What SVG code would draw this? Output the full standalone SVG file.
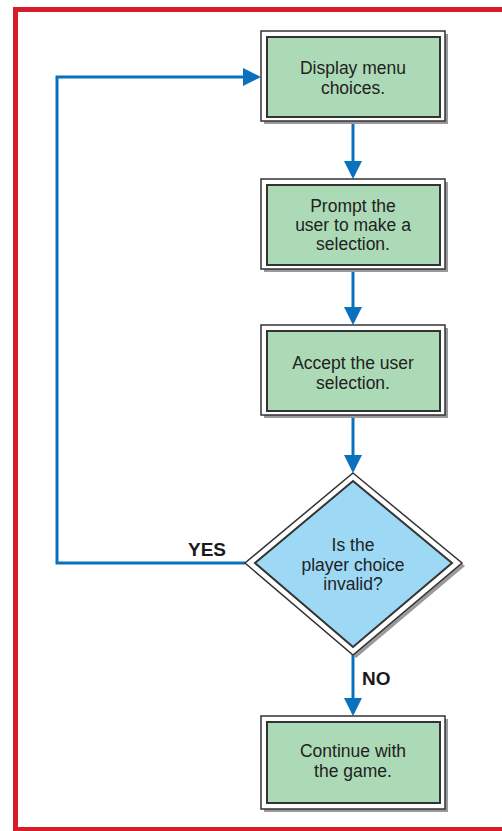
<svg xmlns="http://www.w3.org/2000/svg" width="502" height="831" viewBox="0 0 502 831">
<style>
.frame{fill:#fff;stroke:#d71e28;stroke-width:5}
.shadow{fill:#9a9a9a}
.outer{fill:#fff;stroke:#333;stroke-width:1.5}
.inner{fill:#acdab6;stroke:#333;stroke-width:2}
.dinner{fill:#9dd8f5;stroke:#333;stroke-width:2}
.t{font-family:"Liberation Sans",Arial,sans-serif;font-size:17.5px;fill:#222;text-anchor:middle}
.lbl{font-family:"Liberation Sans",Arial,sans-serif;font-size:19px;font-weight:bold;fill:#1a1a1a}
.conn{fill:none;stroke:#0a72bd;stroke-width:3}
</style>
<defs>
<marker id="ah" markerWidth="6" markerHeight="6" refX="5" refY="3" orient="auto" markerUnits="strokeWidth">
<path d="M0,0 L6,3 L0,6 Z" fill="#0a72bd"/>
</marker>
</defs>
<rect class="frame" x="15.5" y="9.5" width="495" height="820"/>
<g id="connectors">
<line class="conn" x1="353" y1="121" x2="353" y2="176" marker-end="url(#ah)"/>
<line class="conn" x1="353" y1="271" x2="353" y2="322" marker-end="url(#ah)"/>
<line class="conn" x1="353" y1="417" x2="353" y2="470" marker-end="url(#ah)"/>
<line class="conn" x1="353" y1="655" x2="353" y2="713" marker-end="url(#ah)"/>
<polyline class="conn" points="245,563 57,563 57,77 258,77" marker-end="url(#ah)"/>
<text class="lbl" x="188" y="556">YES</text>
<text class="lbl" x="362" y="685">NO</text>
</g>
<g id="n1">
<rect class="shadow" x="264" y="34" width="184" height="90"/>
<rect class="outer" x="261" y="31" width="184" height="90"/>
<rect class="inner" x="267" y="37" width="173" height="80"/>
<text class="t" x="353" y="74">Display menu</text>
<text class="t" x="353" y="94">choices.</text>
</g>
<g id="n2">
<rect class="shadow" x="264" y="182" width="184" height="90"/>
<rect class="outer" x="261" y="179" width="184" height="90"/>
<rect class="inner" x="267" y="185" width="173" height="80"/>
<text class="t" x="353" y="212">Prompt the</text>
<text class="t" x="353" y="231">user to make a</text>
<text class="t" x="353" y="250">selection.</text>
</g>
<g id="n3">
<rect class="shadow" x="264" y="328" width="184" height="90"/>
<rect class="outer" x="261" y="325" width="184" height="90"/>
<rect class="inner" x="267" y="331" width="173" height="80"/>
<text class="t" x="353" y="369">Accept the user</text>
<text class="t" x="353" y="389">selection.</text>
</g>
<g id="n4">
<polygon class="shadow" points="356,476 465,566 356,658 248,566"/>
<polygon class="outer" points="353,473 462,563 353,655 245,563"/>
<polygon class="dinner" points="353,481 452,563 353,647 255,563"/>
<text class="t" x="353" y="551">Is the</text>
<text class="t" x="353" y="571">player choice</text>
<text class="t" x="353" y="590">invalid?</text>
</g>
<g id="n5">
<rect class="shadow" x="264" y="719" width="184" height="93"/>
<rect class="outer" x="261" y="716" width="184" height="93"/>
<rect class="inner" x="267" y="722" width="173" height="81"/>
<text class="t" x="353" y="757">Continue with</text>
<text class="t" x="353" y="777">the game.</text>
</g>
</svg>
